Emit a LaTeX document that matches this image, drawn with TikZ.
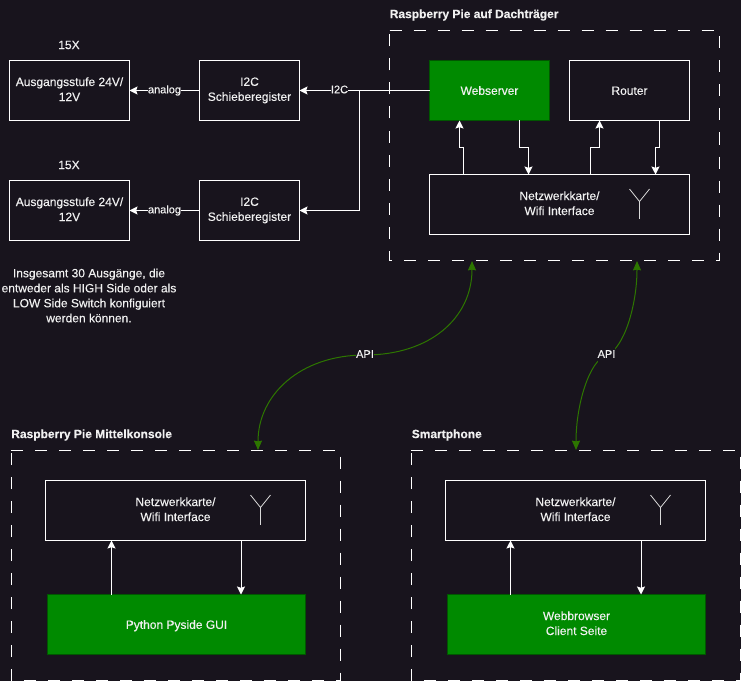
\documentclass[tikz,border=0pt]{standalone}
\usepackage{fontspec}
\setmainfont{Liberation Sans}[FakeBold=0.25]
\usetikzlibrary{arrows.meta}
\definecolor{bgdark}{HTML}{18141D}
\definecolor{textlight}{HTML}{F0F0F0}
\definecolor{greenfill}{HTML}{008A00}
\definecolor{greenline}{HTML}{005700}
\definecolor{apigreen}{HTML}{2D7600}
\newcommand{\boxstrut}{\rule[-2pt]{0pt}{10.5pt}}
\tikzset{
    box/.style={draw=white, line width=0.75pt, text=textlight, align=center, outer sep=0pt, inner sep=0pt,
        font=\fontsize{9}{11.25}\selectfont, minimum height=45pt,
        execute at begin node=\boxstrut, execute at end node=\boxstrut},
    greenbox/.style={box, draw=greenline, fill=greenfill},
    dashbox/.style={draw=white, line width=0.75pt, dash pattern=on 9pt off 9pt, outer sep=0pt, inner sep=0pt},
    title/.style={text=textlight, font=\fontsize{9}{11.25}\selectfont\bfseries, anchor=west, inner sep=0pt},
    plaintext/.style={text=textlight, align=center, font=\fontsize{9}{11.25}\selectfont, inner sep=0pt},
    edgelabel/.style={text=textlight, fill=bgdark, font=\fontsize{8.25}{10}\selectfont, inner xsep=0pt, inner ysep=1pt,
        text height=6pt, text depth=1.8pt},
    arrow/.style={draw=white, line width=0.75pt, -{Stealth[length=6pt,width=6pt,inset=1pt]}},
    apiarrow/.style={draw=apigreen, line width=0.75pt, -{Stealth[length=7pt,width=6pt,inset=0.5pt]}},
    antenna/.style={draw=white!85!black, line width=0.6pt}
}
\begin{document}
\begin{tikzpicture}[x=0.75pt,y=-0.75pt]
    \fill[bgdark] (0,0) rectangle (741,681);
    \useasboundingbox (0,0) rectangle (741,681);

    % dashed groups
    \draw[dashbox] (389.5,30.5) -- (719.5,30.5) -- (719.5,260.5) -- (389.5,260.5) -- cycle;
    \draw[dashbox] (11,450) -- (340.5,450) -- (340.5,680) -- (11,680) -- cycle;
    \draw[dashbox] (411,450) -- (740.5,450) -- (740.5,680) -- (411,680) -- cycle;

    \node[title] (titleDach) at (389.5,15) {Raspberry Pie auf Dachträger};
    \node[title] (titleMittel) at (11,435) {Raspberry Pie Mittelkonsole};
    \node[title] (titlePhone) at (411.5,435) {Smartphone};

    % output stages
    \node[plaintext] (countA) at (69,45) {15X};
    \node[plaintext] (countB) at (69,165) {15X};
    \node[box, minimum width=90pt] (stufeA) at (69.5,90.5) {Ausgangsstufe 24V/\\12V};
    \node[box, minimum width=90pt] (stufeB) at (69.5,210.5) {Ausgangsstufe 24V/\\12V};
    \node[box, minimum width=75pt] (schiebeA) at (249.5,90.5) {I2C\\Schieberegister};
    \node[box, minimum width=75pt] (schiebeB) at (249.5,210.5) {I2C\\Schieberegister};
    \node[plaintext] (note) at (89,295.5) {Insgesamt 30 Ausgänge, die\\entweder als HIGH Side oder als\\LOW Side Switch konfiguiert\\werden können.};

    % roof pi
    \node[greenbox, minimum width=90pt] (web) at (489.5,90.5) {Webserver};
    \node[box, minimum width=90pt] (router) at (629.5,90.5) {Router};
    \node[box, minimum width=195pt] (netzDach) at (559.5,204.5) {Netzwerkkarte/\\Wifi Interface};

    % console pi
    \node[box, minimum width=195pt] (netzMittel) at (175.5,510.5) {Netzwerkkarte/\\Wifi Interface};
    \node[greenbox, minimum width=193.5pt] (gui) at (176.5,624.5) {Python Pyside GUI};

    % smartphone
    \node[box, minimum width=195pt] (netzPhone) at (575.5,510.5) {Netzwerkkarte/\\Wifi Interface};
    \node[greenbox, minimum width=193.5pt] (browser) at (576.5,624.5) {Webbrowser\\Client Seite};

    % antennas
    \foreach \x/\y in {639.5/189, 260.5/495, 660.5/495} {
        \draw[antenna] (\x,\y+12.5) -- (\x,\y+30);
        \draw[antenna] (\x-10,\y) -- (\x,\y+12.5) -- (\x+10,\y);
    }

    % left side
    \draw[arrow] (schiebeA) -- node[edgelabel] (labelA) {analog} (stufeA);
    \draw[arrow] (schiebeB) -- node[edgelabel] (labelB) {analog} (stufeB);
    \coordinate (i2cjoin) at (359,90.5);
    \draw[arrow] (web.west) -- (schiebeA.east);
    \draw[arrow] (i2cjoin) |- (schiebeB.east);
    \node[edgelabel] (labelI2C) at (339.5,90.5) {I2C};

    % roof pi links
    \coordinate (jogA) at (463.5,147);
    \coordinate (jogB) at (459.5,147);
    \coordinate (jogC) at (519.5,147);
    \coordinate (jogD) at (528.5,147);
    \coordinate (jogE) at (590.5,147);
    \coordinate (jogF) at (599.5,147);
    \coordinate (jogG) at (659.5,147);
    \coordinate (jogH) at (655.5,147);
    \draw[arrow] (jogA |- netzDach.north) -- (jogA) -- (jogB) -- (jogB |- web.south);
    \draw[arrow] (jogC |- web.south) -- (jogC) -- (jogD) -- (jogD |- netzDach.north);
    \draw[arrow] (jogE |- netzDach.north) -- (jogE) -- (jogF) -- (jogF |- router.south);
    \draw[arrow] (jogG |- router.south) -- (jogG) -- (jogH) -- (jogH |- netzDach.north);

    % lower links
    \coordinate (guiUp) at (111.5,567);
    \coordinate (guiDown) at (241,567);
    \coordinate (phoneUp) at (510.5,567);
    \coordinate (phoneDown) at (641,567);
    \draw[arrow] (guiUp |- gui.north) -- (guiUp |- netzMittel.south);
    \draw[arrow] (guiDown |- netzMittel.south) -- (guiDown |- gui.north);
    \draw[arrow] (phoneUp |- browser.north) -- (phoneUp |- netzPhone.south);
    \draw[arrow] (phoneDown |- netzPhone.south) -- (phoneDown |- browser.north);

    % api curves
    \coordinate (apiTopA) at (472,261);
    \coordinate (apiLowA) at (258,450);
    \coordinate (apiTopB) at (637,261);
    \coordinate (apiLowB) at (576,450);
    \coordinate (apiMidA) at (365,355);
    \coordinate (apiMidB) at (606.5,355);
    \draw[apiarrow] (apiMidA) .. controls (430,355) and (472,318) .. (apiTopA);
    \draw[apiarrow] (apiMidA) .. controls (300,355) and (258,395) .. (apiLowA);
    \draw[apiarrow] (apiMidB) .. controls (624,349) and (637,305) .. (apiTopB);
    \draw[apiarrow] (apiMidB) .. controls (589,361) and (576,405) .. (apiLowB);
    \node[edgelabel] (labelApiA) at (apiMidA) {API};
    \node[edgelabel] (labelApiB) at (apiMidB) {API};
\end{tikzpicture}
\end{document}
